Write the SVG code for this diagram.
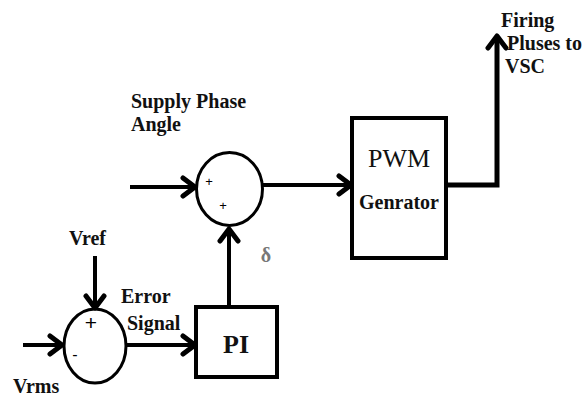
<svg xmlns="http://www.w3.org/2000/svg" width="586" height="397" viewBox="0 0 586 397">
<style>
.ln{stroke:#000;stroke-width:4;fill:none}
.thin{stroke:#000;stroke-width:3;fill:none}
.box{stroke:#000;stroke-width:4;fill:#fff}
.lbl{font-family:'Liberation Serif','Times New Roman',Times,serif;font-weight:bold;font-size:20px;fill:#111}
.sign{font-family:'Liberation Sans',Arial,sans-serif;fill:#000}
</style>
<defs>
<marker id="ah" markerUnits="userSpaceOnUse" markerWidth="24" markerHeight="24" refX="18" refY="12" orient="auto" viewBox="0 0 24 24">
<path d="M6,3 L18,12 L6,21" fill="none" stroke="#000" stroke-width="5" stroke-linecap="round" stroke-linejoin="round"/>
</marker>
</defs>
<rect width="586" height="397" fill="#fff"/>
<g id="connectors">
<line class="ln" x1="130" y1="187" x2="195" y2="187" marker-end="url(#ah)"/>
<line class="ln" x1="263" y1="185" x2="351" y2="185" marker-end="url(#ah)"/>
<polyline class="ln" points="446,185 497,185 497,36" style="stroke-width:5" marker-end="url(#ah)"/>
<line class="ln" x1="229" y1="307" x2="229" y2="229" marker-end="url(#ah)"/>
<line class="ln" x1="95" y1="256" x2="95" y2="308" marker-end="url(#ah)"/>
<line class="ln" x1="23" y1="345" x2="62" y2="345" marker-end="url(#ah)"/>
<line class="ln" x1="126" y1="345" x2="195" y2="345" marker-end="url(#ah)"/>
</g>
<g id="sum1">
<ellipse class="thin" cx="229.5" cy="189" rx="33" ry="36.5" fill="#fff"/>
<text class="sign" x="209" y="186" text-anchor="middle" font-size="13">+</text>
<text class="sign" x="223" y="210" text-anchor="middle" font-size="13">+</text>
</g>
<g id="pwm">
<rect class="box" x="352" y="118" width="94" height="140"/>
<text x="399" y="167" text-anchor="middle" font-family="'Liberation Serif','Times New Roman',serif" font-size="26" fill="#111">PWM</text>
<text x="399" y="209" text-anchor="middle" class="lbl">Genrator</text>
</g>
<g id="pi">
<rect class="box" x="196" y="307" width="81" height="70"/>
<text x="236" y="353" text-anchor="middle" font-family="'Liberation Serif','Times New Roman',serif" font-weight="bold" font-size="26" fill="#111">PI</text>
</g>
<g id="sum2">
<ellipse class="thin" cx="95" cy="346" rx="31" ry="37" fill="#fff"/>
<text class="sign" x="91" y="330" text-anchor="middle" font-size="21">+</text>
<text class="sign" x="75" y="360" text-anchor="middle" font-size="16">-</text>
</g>
<g id="labels">
<text class="lbl" x="501" y="27">Firing</text>
<text class="lbl" x="507" y="50">Pluses to</text>
<text class="lbl" x="505" y="73">VSC</text>
<text class="lbl" x="131" y="108">Supply Phase</text>
<text class="lbl" x="131" y="131">Angle</text>
<text class="lbl" x="69" y="245">Vref</text>
<text class="lbl" x="121" y="303">Error</text>
<text class="lbl" x="127" y="330">Signal</text>
<text class="lbl" x="13" y="393">Vrms</text>
<text x="266" y="262" text-anchor="middle" font-family="'Liberation Serif',serif" font-weight="bold" font-size="20" fill="#777">δ</text>
</g>
</svg>
